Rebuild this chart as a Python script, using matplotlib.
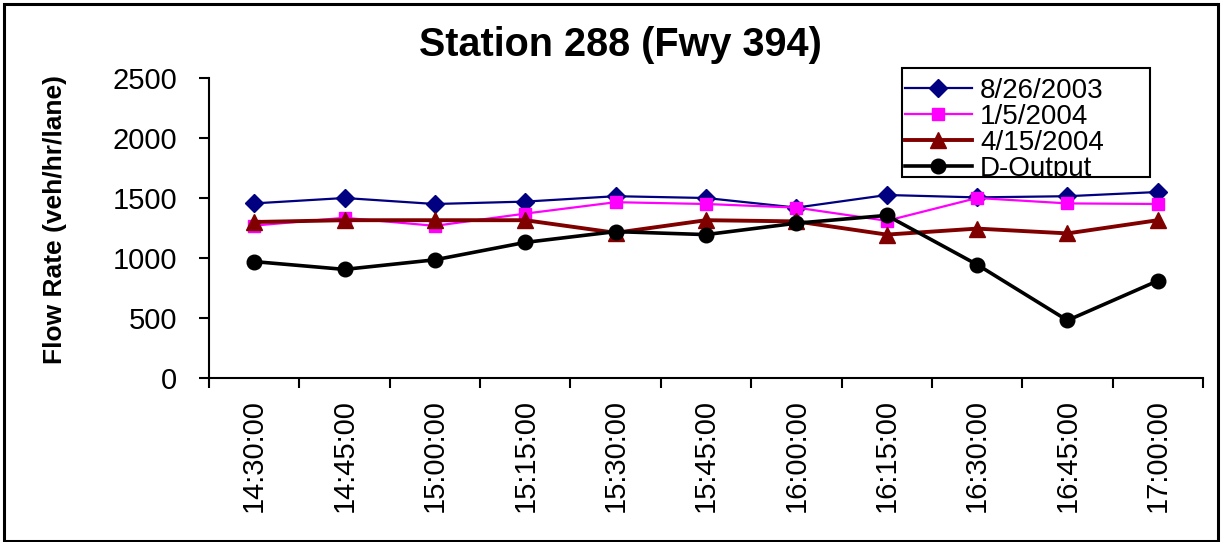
import matplotlib
matplotlib.use("Agg")
import matplotlib.pyplot as plt
from matplotlib.patches import Rectangle

times = ["14:30:00", "14:45:00", "15:00:00", "15:15:00", "15:30:00", "15:45:00",
         "16:00:00", "16:15:00", "16:30:00", "16:45:00", "17:00:00"]
s_0826 = [1455, 1500, 1450, 1470, 1515, 1500, 1420, 1525, 1505, 1515, 1550]
s_0105 = [1270, 1335, 1268, 1370, 1465, 1450, 1420, 1310, 1500, 1455, 1450]
s_0415 = [1300, 1315, 1315, 1315, 1210, 1315, 1305, 1195, 1245, 1205, 1315]
s_dout = [970, 905, 985, 1130, 1220, 1195, 1290, 1355, 945, 480, 810]
labels = ["8/26/2003", "1/5/2004", "4/15/2004", "D-Output"]
yticks = [0, 500, 1000, 1500, 2000, 2500]

W, H = 1225, 542
fig = plt.figure(figsize=(W / 100, H / 100), dpi=100)
font = "Liberation Sans"

def fx(px):
    return px / W

def fy(py):
    return 1 - py / H

ax = fig.add_axes([fx(209), fy(378), fx(1203) - fx(209), fy(78) - fy(378)])
x = list(range(len(times)))

ax.plot(x, s_0826, color="#000080", lw=1.6, marker="D", ms=9, mec="#000080", mfc="#000080", label=labels[0])
ax.plot(x, s_0105, color="#FF00FF", lw=1.6, marker="s", ms=8.5, mec="#FF00FF", mfc="#FF00FF", label=labels[1])
ax.plot(x, s_0415, color="#800000", lw=2.8, marker="^", ms=12, mec="#800000", mfc="#800000", label=labels[2])
ax.plot(x, s_dout, color="black", lw=2.6, marker="o", ms=10.5, mec="black", mfc="black", label=labels[3])

ax.set_xlim(-0.5, len(times) - 0.5)
ax.set_ylim(0, 2500)
ax.set_yticks(yticks)
ax.set_yticklabels([str(v) for v in yticks], fontsize=21, fontfamily=font)
ax.tick_params(axis="y", direction="out", length=7, width=1.5, pad=16)

ax.set_xticks(x)
ax.set_xticklabels(times, rotation=90, fontsize=21, fontfamily=font)
ax.set_xticks([i - 0.5 for i in range(len(times) + 1)], minor=True)
ax.tick_params(axis="x", which="major", length=0, pad=15)
ax.tick_params(axis="x", which="minor", direction="out", length=7, width=1.5)

for s in ["top", "right"]:
    ax.spines[s].set_visible(False)
for s in ["left", "bottom"]:
    ax.spines[s].set_linewidth(1.5)

fig.text(fx(620), fy(45), "Station 288 (Fwy 394)", ha="center", va="center",
         fontsize=28.5, fontweight="bold", fontfamily=font)
fig.text(fx(55), fy(219), "Flow Rate (veh/hr/lane)", ha="center", va="center",
         rotation=90, fontsize=19, fontweight="bold", fontfamily=font)

# legend with clipped frame
frame = Rectangle((fx(902), fy(177)), fx(1150) - fx(902), fy(68) - fy(177),
                  transform=fig.transFigure, fill=False, ec="black", lw=1.5, zorder=10)
fig.patches.append(frame)
leg = ax.legend(loc="upper left", bbox_to_anchor=(fx(905), fy(78)),
                bbox_transform=fig.transFigure, frameon=False,
                prop={"family": font, "size": 20}, handlelength=2.4,
                handletextpad=0.3, labelspacing=0.0, borderpad=0, borderaxespad=0)
clip = Rectangle((fx(902), fy(176)), fx(1150) - fx(902), fy(68) - fy(176),
                 transform=fig.transFigure)
for t in leg.get_texts():
    t.set_clip_path(clip)
    t.set_clip_on(True)
for h in leg.legend_handles:
    h.set_clip_path(clip)
    h.set_clip_on(True)

border = Rectangle((fx(4), fy(541)), fx(1218) - fx(4), fy(4) - fy(541),
                   transform=fig.transFigure, fill=False, ec="black", lw=2.2)
fig.patches.append(border)

fig.savefig("out.png", dpi=100)
